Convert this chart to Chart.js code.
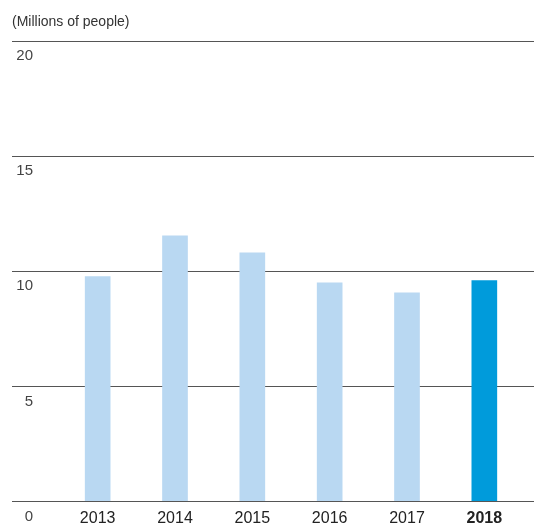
<!DOCTYPE html>
<html>
<head>
<meta charset="utf-8">
<script src="https://cdn.jsdelivr.net/npm/chart.js@4"></script>
<style>
  html, body { margin: 0; padding: 0; background: #fff; }
  #wrap { width: 534px; height: 526px; position: relative; }
</style>
</head>
<body>
<div id="wrap"><canvas id="c" width="534" height="526"></canvas></div>
<script>
const years = ['2013', '2014', '2015', '2016', '2017', '2018'];
const people = [9.75, 11.52, 10.78, 9.48, 9.04, 9.57];
const yTicks = [0, 5, 10, 15, 20];
const unitLabel = '(Millions of people)';

const FONT = '"Liberation Sans", Arial, Helvetica, sans-serif';
const lightBlue = '#b9d8f2';
const strongBlue = '#009bdb';

const gridPlugin = {
  id: 'fullGrid',
  beforeDatasetsDraw(chart) {
    const ctx = chart.ctx;
    const y = chart.scales.y;
    ctx.save();
    ctx.strokeStyle = '#555';
    ctx.lineWidth = 1;
    yTicks.forEach(v => {
      const py = Math.round(y.getPixelForValue(v)) + 0.5;
      ctx.beginPath();
      ctx.moveTo(12, py);
      ctx.lineTo(chart.width, py);
      ctx.stroke();
    });
    ctx.fillStyle = '#444';
    ctx.font = '15px ' + FONT;
    ctx.textAlign = 'right';
    ctx.textBaseline = 'top';
    yTicks.forEach(v => {
      const py = y.getPixelForValue(v);
      ctx.fillText(String(v), 33, py + 8);
    });
    ctx.fillStyle = '#333';
    ctx.font = '14px ' + FONT;
    ctx.textAlign = 'left';
    ctx.textBaseline = 'middle';
    ctx.fillText(unitLabel, 12, 22);
    ctx.restore();
  }
};

new Chart(document.getElementById('c'), {
  type: 'bar',
  data: {
    labels: years,
    datasets: [{
      data: people,
      backgroundColor: years.map((_, i) => i === years.length - 1 ? strongBlue : lightBlue),
      borderWidth: 0,
      barThickness: 25
    }]
  },
  options: {
    responsive: false,
    animation: false,
    devicePixelRatio: 1,
    layout: { padding: { left: 59, right: 11, top: 40.5, bottom: 0 } },
    plugins: { legend: { display: false }, tooltip: { enabled: false }, title: { display: false } },
    scales: {
      x: {
        grid: { display: false, drawTicks: false },
        border: { display: false },
        afterFit: (scale) => { scale.height = 25; },
        ticks: {
          padding: 8,
          color: '#222',
          font: (c) => ({ family: FONT, size: 16, weight: c.index === years.length - 1 ? 'bold' : 'normal' })
        }
      },
      y: {
        display: false,
        min: 0,
        max: 20
      }
    }
  },
  plugins: [gridPlugin]
});
</script>
</body>
</html>
